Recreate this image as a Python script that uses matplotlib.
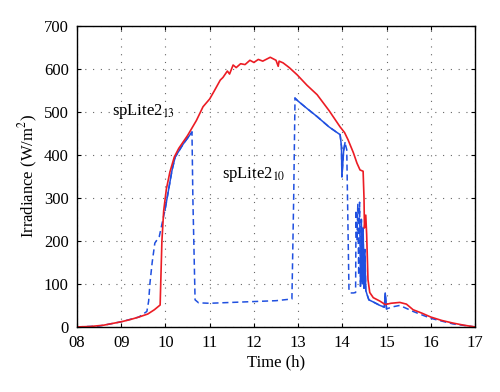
import numpy as np
import matplotlib
matplotlib.use("Agg")
import matplotlib.pyplot as plt

# spLite2_13 (red, solid)
red_t = [8.0, 8.3, 8.6, 9.0, 9.2, 9.4, 9.6, 9.75, 9.88, 9.92, 9.96, 10.02, 10.1,
         10.2, 10.3, 10.5, 10.7, 10.85, 11.0, 11.1, 11.24, 11.3, 11.4, 11.45, 11.53,
         11.6, 11.7, 11.8, 11.91, 12.0, 12.1, 12.2, 12.37, 12.5, 12.55, 12.57, 12.66,
         12.8, 12.98, 13.2, 13.43, 13.7, 13.95, 14.05, 14.13, 14.25, 14.33, 14.4,
         14.47, 14.49, 14.5, 14.53, 14.55, 14.58, 14.62, 14.7, 14.85, 14.97, 15.1,
         15.3, 15.45, 15.6, 15.8, 16.0, 16.25, 16.5, 16.75, 17.0]
red_v = [0, 1, 4, 12, 17, 23, 30, 40, 51, 200, 270, 320, 360,
         395, 415, 445, 480, 512, 530, 548, 574, 580, 595, 588, 609,
         603, 612, 610, 620, 615, 622, 618, 627, 620, 606, 618, 614,
         603, 586, 562, 540, 503, 465, 452, 435, 405, 381, 365,
         362, 300, 230, 260, 215, 110, 80, 68, 60, 52, 55,
         57, 53, 40, 32, 23, 15, 9, 4, 0]

# spLite2_10 (blue, dashed)
blue_t = [8.0, 8.5, 9.0, 9.4, 9.58, 9.62, 9.65, 9.7, 9.76, 9.86, 9.99, 10.15,
          10.22, 10.4, 10.6, 10.62, 10.67, 10.75, 11.0, 11.5, 12.0, 12.5, 12.86,
          12.9, 12.93, 13.0, 13.2, 13.43, 13.7, 13.95, 13.98, 13.99, 14.03, 14.06,
          14.1, 14.15, 14.18, 14.25, 14.3, 14.31, 14.33, 14.35, 14.37, 14.39, 14.41,
          14.43, 14.45, 14.47, 14.49, 14.51, 14.53, 14.56, 14.6, 14.7, 14.85, 14.95,
          14.97, 15.0, 15.15, 15.3, 15.6, 15.8, 16.0, 16.5, 17.0]
blue_v = [0, 2, 12, 23, 36, 60, 102, 150, 195, 210, 272, 365,
          395, 425, 453, 300, 63, 56, 55, 57, 59, 61, 65,
          300, 532, 525, 508, 489, 465, 447, 420, 349, 410, 428,
          412, 86, 79, 79, 80, 272, 200, 285, 120, 290, 95,
          250, 100, 230, 90, 180, 85, 75, 63, 58, 50, 46,
          79, 42, 47, 50, 36, 28, 20, 7, 0]
blue_solid_spans = [(9.99, 10.6), (12.93, 14.06), (14.4, 15.05)]

x_ticks = [8, 9, 10, 11, 12, 13, 14, 15, 16, 17]
x_labels = ["08", "09", "10", "11", "12", "13", "14", "15", "16", "17"]
y_ticks = [0, 100, 200, 300, 400, 500, 600, 700]

red = "#ec1c24"
blue = "#2050e0"

plt.rcParams['font.family'] = ['Liberation Serif', 'DejaVu Serif']
plt.rcParams['mathtext.fontset'] = 'stix'

fig = plt.figure(figsize=(5.0, 3.92), dpi=100)
ax = fig.add_axes([0.154, 0.166, 0.796, 0.768])

bt = np.array(blue_t)
bv = np.array(blue_v)
ax.plot(bt, bv, color=blue, lw=1.1, linestyle=(0, (4, 2.5)))
for a, b in blue_solid_spans:
    m = (bt >= a) & (bt <= b)
    ax.plot(bt[m], bv[m], color=blue, lw=1.1)
ax.plot(red_t, red_v, color=red, lw=1.2)

ax.set_xlim(8, 17)
ax.set_ylim(0, 700)
ax.set_xticks(x_ticks)
ax.set_xticklabels(x_labels)
ax.set_yticks(y_ticks)
ax.tick_params(direction='in', top=True, right=True, labelsize=12, length=3)
ax.tick_params(axis='x', pad=6)
ax.tick_params(axis='y', pad=6)
ax.grid(True, color='#666666', linestyle=(0, (1, 6)), linewidth=0.8)
for s in ax.spines.values():
    s.set_linewidth(1.0)

ax.text(8.8, 500, "spLite2$_{13}$", fontsize=12, va='center', ha='left')
ax.text(11.27, 355, "spLite2$_{10}$", fontsize=12, va='center', ha='left')

ax.set_xlabel("Time (h)", fontsize=12, labelpad=2)
ax.set_ylabel("Irradiance (W/m$^2$)", fontsize=12, labelpad=3)

fig.savefig("out.png", dpi=100)
